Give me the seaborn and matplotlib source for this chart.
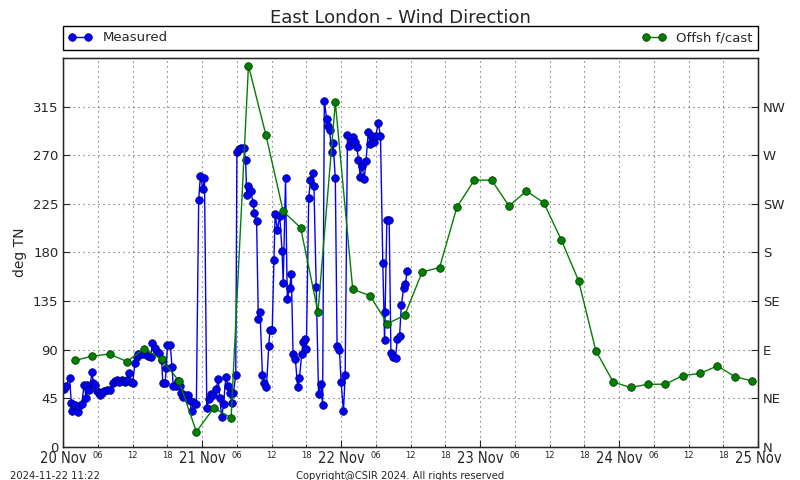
import pandas as pd
import seaborn as sns
import matplotlib.pyplot as plt
import matplotlib.dates as mdates

sns.set_style('ticks')
plt.rcParams['font.family'] = ['DejaVu Sans']

start = pd.Timestamp('2024-11-20 00:00')

# measured wind direction (hours after 20 Nov 00:00, degrees TN)
meas_hours = [0.2, 0.5, 1.1, 1.4, 1.5, 1.8, 2.1, 2.5, 2.8, 3.2,
              3.6, 4.0, 4.1, 4.5, 5.0, 5.2, 5.5, 5.8, 6.1, 6.4,
              6.7, 7.0, 7.5, 8.1, 8.6, 9.0, 9.3, 9.7, 10.1, 10.4,
              10.7, 11.0, 11.4, 11.7, 12.0, 12.4, 12.7, 13.0, 13.6, 14.2,
              14.7, 15.1, 15.4, 15.8, 16.2, 16.6, 17.0, 17.2, 17.6, 17.8,
              18.0, 18.5, 18.8, 19.0, 19.5, 19.9, 20.1, 20.3, 20.7, 21.1,
              21.5, 21.8, 22.2, 22.5, 23.0, 23.4, 23.7, 24.1, 24.4, 24.8,
              25.1, 25.5, 25.9, 26.4, 26.8, 27.0, 27.4, 27.7, 28.1, 28.5,
              28.8, 29.1, 29.4, 29.8, 30.0, 30.4, 30.7, 31.2, 31.5, 31.7,
              32.0, 32.4, 32.8, 33.0, 33.4, 33.7, 34.0, 34.4, 34.7, 35.1,
              35.5, 35.7, 36.1, 36.4, 36.6, 37.0, 37.4, 37.8, 38.0, 38.4,
              38.7, 39.1, 39.4, 39.7, 40.1, 40.5, 40.8, 41.2, 41.4, 41.7,
              42.0, 42.4, 42.7, 43.1, 43.3, 43.7, 44.1, 44.5, 44.8, 45.1,
              45.5, 45.8, 46.0, 46.4, 46.6, 47.0, 47.3, 47.7, 48.0, 48.4,
              48.7, 49.1, 49.4, 49.7, 50.1, 50.4, 50.7, 51.0, 51.3, 51.6,
              52.0, 52.3, 52.7, 53.0, 53.4, 53.7, 54.0, 54.4, 54.8, 55.2,
              55.5, 55.6, 55.9, 56.3, 56.6, 57.0, 57.4, 57.7, 58.1, 58.4,
              58.8, 59.1, 59.4]
meas_deg = [54, 56, 64, 41, 33, 38, 39, 32, 38, 40,
            57, 45, 57, 53, 69, 59, 57, 52, 50, 48,
            50, 52, 53, 53, 59, 61, 62, 60, 62, 61,
            60, 62, 68, 60, 59, 78, 83, 86, 86, 86,
            84, 83, 96, 92, 88, 87, 80, 59, 59, 73,
            94, 94, 74, 56, 56, 61, 56, 50, 46, 48,
            48, 43, 33, 42, 40, 229, 251, 239, 249, 36,
            44, 49, 48, 54, 63, 45, 28, 40, 65, 56,
            50, 41, 50, 67, 273, 276, 277, 277, 266, 233,
            242, 237, 226, 217, 209, 118, 125, 67, 59, 55,
            93, 108, 108, 173, 216, 201, 214, 181, 152, 249,
            137, 147, 160, 86, 81, 55, 64, 86, 97, 100,
            91, 230, 247, 254, 242, 148, 49, 58, 39, 320,
            304, 297, 293, 273, 281, 249, 93, 90, 60, 33,
            67, 289, 279, 284, 287, 282, 278, 266, 250, 260,
            248, 265, 292, 280, 288, 282, 288, 300, 288, 170,
            99, 125, 210, 210, 87, 83, 82, 100, 103, 131,
            147, 151, 163]

# offshore forecast, 3-hourly
fc_hours = [2, 5, 8, 11, 14, 17, 20, 23, 26, 29,
            32, 35, 38, 41, 44, 47, 50, 53, 56, 59,
            62, 65, 68, 71, 74, 77, 80, 83, 86, 89,
            92, 95, 98, 101, 104, 107, 110, 113, 116, 119]
fc_deg = [80, 84, 86, 79, 91, 81, 61, 14, 36, 27,
          353, 289, 218, 203, 125, 319, 146, 140, 114, 122,
          162, 166, 222, 247, 247, 223, 237, 226, 192, 154,
          89, 60, 55, 58, 58, 66, 68, 75, 65, 61]

deg_ticks = [0, 45, 90, 135, 180, 225, 270, 315]
compass = ['N', 'NE', 'E', 'SE', 'S', 'SW', 'W', 'NW']

meas = pd.DataFrame({'time': start + pd.to_timedelta(meas_hours, unit='h'), 'deg': meas_deg})
fc = pd.DataFrame({'time': start + pd.to_timedelta(fc_hours, unit='h'), 'deg': fc_deg})

fig = plt.figure(figsize=(8, 4.8), dpi=100)
ax = fig.add_axes([0.079, 0.069, 0.8685, 0.81])

sns.lineplot(data=meas, x='time', y='deg', ax=ax, color='b', lw=1, marker='o',
             markersize=5.5, markeredgecolor='#000060', markeredgewidth=0.5,
             estimator=None, label='Measured')
sns.lineplot(data=fc, x='time', y='deg', ax=ax, color='g', lw=1, marker='o',
             markersize=5.5, markeredgecolor='#003000', markeredgewidth=0.5,
             estimator=None, label='Offsh f/cast')

ax.set_xlim(start, start + pd.Timedelta(days=5))
ax.set_ylim(0, 360)
ax.set_yticks(deg_ticks)
ax.set_ylabel('deg TN', fontsize=10)
ax.set_xlabel('')

ax.xaxis.set_major_locator(mdates.DayLocator())
ax.xaxis.set_major_formatter(mdates.DateFormatter('%d %b'))
ax.xaxis.set_minor_locator(mdates.HourLocator(byhour=[6, 12, 18]))
ax.xaxis.set_minor_formatter(mdates.DateFormatter('%H'))
for lab in ax.get_xticklabels():
    lab.set_fontstretch('condensed')
ax.tick_params(axis='x', which='major', labelsize=10.5, direction='in', length=5, pad=3)
ax.tick_params(axis='x', which='minor', labelsize=6, direction='in', length=2.5, pad=3)
ax.tick_params(axis='y', labelsize=9.5, direction='in', length=5)

grid_style = dict(color='0.35', linestyle=(0, (1, 3.5)), linewidth=0.8)
ax.grid(True, which='both', axis='x', **grid_style)
ax.grid(True, which='major', axis='y', **grid_style)
for sp in ax.spines.values():
    sp.set_visible(True)
    sp.set_color('k')
    sp.set_linewidth(1)

ax2 = ax.twinx()
ax2.set_ylim(0, 360)
ax2.set_yticks(deg_ticks)
ax2.set_yticklabels(compass)
ax2.tick_params(axis='y', labelsize=9.5, direction='in', length=5)

ax.legend(loc='lower left', bbox_to_anchor=(0, 1.022, 1, 0.05), mode='expand',
          ncol=2, numpoints=2, borderaxespad=0, fancybox=False, edgecolor='k',
          framealpha=1, fontsize=9.5, handlelength=1.8)

fig.text(0.5, 0.962, 'East London - Wind Direction', ha='center', va='center', fontsize=13)
fig.text(0.0125, 0.008, '2024-11-22 11:22', ha='left', va='center', fontsize=8,
         fontstretch='condensed')
fig.text(0.5, 0.008, 'Copyright@CSIR 2024. All rights reserved', ha='center',
         va='center', fontsize=8, fontstretch='condensed')

fig.savefig('out.png', dpi=100)
